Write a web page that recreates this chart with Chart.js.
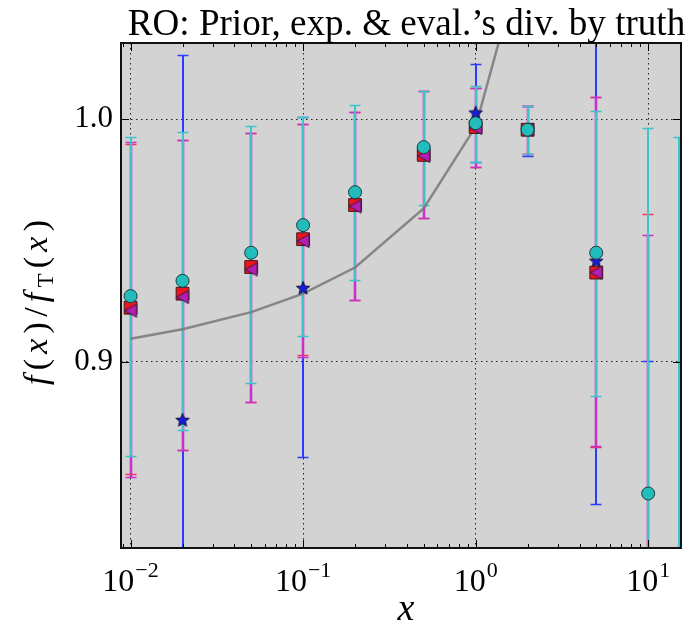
<!DOCTYPE html>
<html><head><meta charset="utf-8">
<script src="https://cdn.jsdelivr.net/npm/chart.js@4.4.0/dist/chart.umd.min.js"></script>
<style>html,body{margin:0;padding:0;background:#fff;overflow:hidden;}</style>
</head><body>
<canvas id="c" width="691" height="633" style="width:691px;height:633px;display:block"></canvas>
<script>
const titleText = "RO: Prior, exp. & eval.\u2019s div. by truth";
const xVals = [0.01, 0.02, 0.05, 0.1, 0.2, 0.5, 1, 2, 5, 10, 15];

// Prior (red squares)
const priorVals = [0.9222, 0.9280, 0.9390, 0.9505, 0.9646, 0.9853, 0.9968, 0.9957, 0.9367, 0.800, null];
const priorHi   = [0.9900, 0.9914, 0.9943, 0.9980, 1.0032, 1.0118, 1.0129, 1.0053, 1.0090, 0.9609, null];
const priorLo   = [0.8537, 0.8636, 0.8831, 0.9026, 0.9255, 0.9591, 0.9805, 0.9856, 0.8648, 0.640, null];
// Expectation (magenta triangles)
const expVals = [0.9210, 0.9266, 0.9380, 0.9497, 0.9640, 0.9849, 0.9964, 0.9957, 0.9367, 0.790, null];
const expHi   = [0.9905, 0.9914, 0.9943, 0.9980, 1.0032, 1.0118, 1.0129, 1.0053, 1.0090, 0.9523, null];
const expLo   = [0.8524, 0.8636, 0.8831, 0.9020, 0.9255, 0.9591, 0.9805, 0.9856, 0.8650, 0.630, null];
// Evaluation (cyan circles)
const evalVals = [0.9270, 0.9333, 0.9449, 0.9563, 0.9699, 0.9885, 0.9984, 0.9957, 0.9449, 0.8455, 0.700];
const evalHi   = [0.9926, 0.9947, 0.9974, 1.0009, 1.0057, 1.0118, 1.0136, 1.0053, 1.0036, 0.9963, 0.9926];
const evalLo   = [0.8608, 0.8718, 0.8912, 0.9106, 0.9335, 0.9646, 0.9825, 0.9856, 0.8856, 0.700, 0.550];
// Truth-level (blue stars)
const truthVals = [null, 0.8759, null, 0.9304, null, null, 1.0028, 0.9957, 0.9416, 0.750, null];
const truthHi   = [null, 1.0267, null, 1.0010, null, null, 1.0229, 1.0053, 1.0600, 0.9001, null];
const truthLo   = [null, 0.7000, null, 0.8607, null, null, 0.9825, 0.9850, 0.8413, 0.600, null];
// Gray curve
const curveX = [0.01, 0.02, 0.05, 0.1, 0.2, 0.5, 1, 2];
const curveY = [0.9094, 0.9133, 0.9204, 0.9280, 0.9388, 0.9632, 0.9970, 1.0750];

// Axes
const xMin = 0.0088, xMax = 15.5;
const yMin = 0.8230, yMax = 1.0315;
const xTickValues = [0.01, 0.1, 1, 10];
const xTickExps = ['\u22122', '\u22121', '0', '1'];
const yTickValues = [0.9, 1.0];
const yTickLabels = ['0.9', '1.0'];

const SERIF = "'Liberation Serif', 'DejaVu Serif', serif";

function pts(xs, ys) {
  const out = [];
  xs.forEach((x, i) => { if (ys[i] !== null) out.push({x: x, y: ys[i]}); });
  return out;
}

function makeStar() {
  const c = document.createElement('canvas'); c.width = 16; c.height = 16;
  const g = c.getContext('2d');
  g.beginPath();
  for (let k = 0; k < 10; k++) {
    const r = (k % 2 === 0) ? 7 : 3;
    const a = -Math.PI / 2 + k * Math.PI / 5;
    const px = 8 + r * Math.cos(a), py = 8.6 + r * Math.sin(a);
    if (k === 0) g.moveTo(px, py); else g.lineTo(px, py);
  }
  g.closePath();
  g.fillStyle = '#1b1bdd'; g.fill();
  g.strokeStyle = '#0a0a40'; g.lineWidth = 1; g.stroke();
  return c;
}
function makeTri() {
  const c = document.createElement('canvas'); c.width = 16; c.height = 16;
  const g = c.getContext('2d');
  g.beginPath();
  g.moveTo(2, 8); g.lineTo(14, 1.5); g.lineTo(14, 14.5); g.closePath();
  g.fillStyle = '#b41eb4'; g.fill();
  g.strokeStyle = '#3a1a3a'; g.lineWidth = 1; g.stroke();
  return c;
}
const starImg = makeStar();
const triImg = makeTri();

const errSeries = [
  {lo: truthLo, hi: truthHi, color: '#2a3cff', w: 2},
  {lo: priorLo, hi: priorHi, color: '#ff3060', w: 2},
  {lo: expLo, hi: expHi, color: '#c832c8', w: 2.6},
  {lo: evalLo, hi: evalHi, color: '#3cc4cc', w: 2}
];

const deco = {
  id: 'deco',
  beforeDraw(chart) {
    const {ctx, chartArea: a} = chart;
    ctx.save();
    ctx.fillStyle = '#ffffff'; ctx.fillRect(0, 0, chart.width, chart.height);
    ctx.fillStyle = '#d3d3d3'; ctx.fillRect(a.left, a.top, a.right - a.left, a.bottom - a.top);
    ctx.restore();
  },
  beforeDatasetsDraw(chart) {
    const {ctx, chartArea: a, scales: {x: xs, y: ys}} = chart;
    ctx.save();
    ctx.beginPath(); ctx.rect(a.left, a.top, a.right - a.left, a.bottom - a.top); ctx.clip();
    errSeries.forEach(s => {
      ctx.strokeStyle = s.color;
      xVals.forEach((xv, i) => {
        if (s.lo[i] === null || s.hi[i] === null) return;
        const px = Math.round(xs.getPixelForValue(xv));
        const y1 = Math.round(ys.getPixelForValue(s.lo[i])) + 0.5;
        const y2 = Math.round(ys.getPixelForValue(s.hi[i])) + 0.5;
        ctx.lineWidth = s.w;
        ctx.beginPath();
        ctx.moveTo(px, y1); ctx.lineTo(px, y2);
        ctx.stroke();
        ctx.lineWidth = 1.5;
        ctx.beginPath();
        ctx.moveTo(px - 5.5, y1); ctx.lineTo(px + 5.5, y1);
        ctx.moveTo(px - 5.5, y2); ctx.lineTo(px + 5.5, y2);
        ctx.stroke();
      });
    });
    ctx.restore();
  },
  afterDraw(chart) {
    const {ctx, chartArea: a, scales: {x: xs, y: ys}} = chart;
    ctx.save();
    ctx.strokeStyle = '#000'; ctx.lineWidth = 1;
    ctx.beginPath();
    for (let e = -3; e <= 2; e++) {
      for (let m = 1; m <= 9; m++) {
        const v = m * Math.pow(10, e);
        if (v < xMin || v > xMax) continue;
        const px = Math.round(xs.getPixelForValue(v)) + 0.5;
        const len = (m === 1) ? 8 : 4;
        ctx.moveTo(px, a.bottom); ctx.lineTo(px, a.bottom - len);
        ctx.moveTo(px, a.top); ctx.lineTo(px, a.top + len);
      }
    }
    yTickValues.forEach(v => {
      const py = Math.round(ys.getPixelForValue(v)) + 0.5;
      ctx.moveTo(a.left, py); ctx.lineTo(a.left + 8, py);
      ctx.moveTo(a.right, py); ctx.lineTo(a.right - 8, py);
    });
    ctx.stroke();
    ctx.lineWidth = 2; ctx.strokeStyle = '#111';
    ctx.strokeRect(a.left, a.top, a.right - a.left, a.bottom - a.top);

    ctx.fillStyle = '#000';
    ctx.textBaseline = 'alphabetic';
    xTickValues.forEach((v, i) => {
      const px = xs.getPixelForValue(v);
      ctx.font = '32px ' + SERIF;
      const w1 = ctx.measureText('10').width;
      ctx.font = '22px ' + SERIF;
      const w2 = ctx.measureText(xTickExps[i]).width;
      const x0 = px - (w1 + w2 + 1) / 2;
      ctx.textAlign = 'left';
      ctx.font = '32px ' + SERIF; ctx.fillText('10', x0, 591);
      ctx.font = '22px ' + SERIF; ctx.fillText(xTickExps[i], x0 + w1 + 1, 577);
    });
    ctx.textAlign = 'center';
    ctx.font = 'italic 38px ' + SERIF;
    ctx.fillText('x', 406, 620);
    ctx.font = '36px ' + SERIF;
    let tw = ctx.measureText(titleText).width;
    const fs = 36 * 557 / tw;
    ctx.font = fs.toFixed(1) + 'px ' + SERIF;
    ctx.textAlign = 'center';
    ctx.fillText(titleText, 406.5, 35);
    const pieces = [
      ['f', 'italic 34px', 0], ['(', '34px', 0], ['x', 'italic 34px', 0], [')', '34px', 0],
      ['/', '34px', 0], ['f', 'italic 34px', 0], ['T', '23px', 6], ['(', '34px', 0],
      ['x', 'italic 34px', 0], [')', '34px', 0]
    ];
    let nat = 0;
    const ws = pieces.map(p => { ctx.font = p[1] + ' ' + SERIF; const w = ctx.measureText(p[0]).width; nat += w; return w; });
    const target = 165;
    const gap = (target - nat) / (pieces.length - 1);
    ctx.translate(47, 302.5);
    ctx.rotate(-Math.PI / 2);
    ctx.textAlign = 'left';
    let cx = -target / 2;
    pieces.forEach((p, i) => {
      ctx.font = p[1] + ' ' + SERIF;
      ctx.fillText(p[0], cx, p[2]);
      cx += ws[i] + gap;
    });
    ctx.restore();
  }
};

const chart = new Chart(document.getElementById('c'), {
  type: 'scatter',
  data: {
    datasets: [
      { label: 'curve', data: pts(curveX, curveY), showLine: true, borderColor: 'rgba(120,120,120,0.85)',
        borderWidth: 2.5, pointRadius: 0, fill: false, order: 6, clip: 0 },
      { label: 'truth', data: pts(xVals, truthVals), pointStyle: starImg, pointRadius: 8, order: 5, clip: 0 },
      { label: 'prior', data: pts(xVals, priorVals), pointStyle: 'rect', pointRadius: 9,
        backgroundColor: '#ee1420', borderColor: '#3a1a1a', borderWidth: 1, order: 4, clip: 0 },
      { label: 'exp', data: pts(xVals, expVals), pointStyle: triImg, pointRadius: 8, order: 3, clip: 0 },
      { label: 'eval', data: pts(xVals, evalVals), pointStyle: 'circle', pointRadius: 6.5,
        backgroundColor: '#22bcbc', borderColor: '#1c3a3a', borderWidth: 1, order: 2, clip: 0 }
    ]
  },
  options: {
    responsive: false, animation: false, devicePixelRatio: 1,
    layout: { padding: { left: 0, right: 2, top: 43, bottom: 0 } },
    plugins: { legend: { display: false }, tooltip: { enabled: false }, title: { display: false } },
    scales: {
      x: {
        type: 'logarithmic', min: xMin, max: xMax,
        afterBuildTicks: ax => { ax.ticks = xTickValues.map(v => ({value: v})); },
        afterFit: s => { s.height = 85; },
        ticks: { display: false },
        grid: { color: 'rgba(0,0,0,0.85)', lineWidth: 1, drawTicks: false },
        border: { display: false, dash: [1.5, 3.5] }
      },
      y: {
        type: 'linear', min: yMin, max: yMax,
        afterBuildTicks: ax => { ax.ticks = yTickValues.map(v => ({value: v})); },
        afterFit: s => { s.width = 121; },
        ticks: { color: '#000', padding: 8, font: { family: SERIF, size: 31 },
          callback: v => { const i = yTickValues.findIndex(t => Math.abs(t - v) < 1e-9); return i >= 0 ? yTickLabels[i] : ''; } },
        grid: { color: 'rgba(0,0,0,0.85)', lineWidth: 1, drawTicks: false },
        border: { display: false, dash: [1.5, 3.5] }
      }
    }
  },
  plugins: [deco]
});
</script>
</body></html>
